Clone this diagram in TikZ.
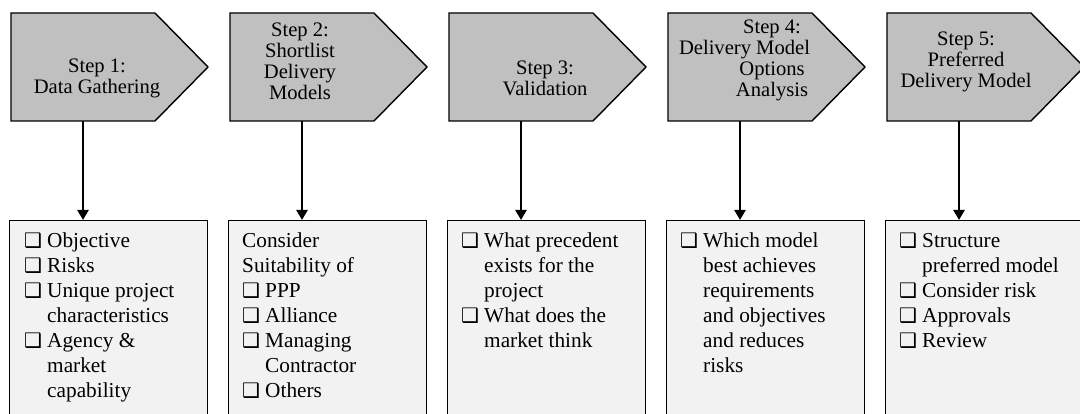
\documentclass[tikz,border=0pt]{standalone}
\usepackage{fontspec}
\setmainfont{Liberation Serif}
\newfontfamily\symfont{DejaVu Sans}
\usetikzlibrary{arrows.meta}

\definecolor{stepgray}{RGB}{192,192,192}
\definecolor{boxgray}{RGB}{242,242,242}

% shadowed check box bullet in a fixed-width column
\newcommand{\chk}{\makebox[23pt][l]{\symfont\fontsize{20}{20}\selectfont ❑}}
\newcommand{\gap}{\makebox[23pt][l]{}}
\newcommand{\wide}[1]{\multicolumn{2}{@{}l@{}}{#1}}
\newenvironment{checklist}{\begin{tabular}[t]{@{}l@{}l@{}}}{\end{tabular}}

\begin{document}
\begin{tikzpicture}[x=1pt,y=-1pt,
  stepshape/.style={draw=black, line width=1.4pt, fill=stepgray, line join=miter},
  boxshape/.style={draw=black, line width=1.4pt, fill=boxgray, anchor=north west,
    minimum width=198pt, minimum height=215pt, inner sep=0pt},
  steptext/.style={align=center, inner sep=0pt, font=\fontsize{20.6}{21}\selectfont},
  listtext/.style={anchor=base west, inner sep=0pt, font=\fontsize{21.3}{25}\selectfont},
  flow/.style={line width=2.8pt, -{Triangle[length=10pt,width=11pt]}}]

\useasboundingbox (0,0) rectangle (1080,414);
\clip (0,0) rectangle (1080,414);

% step arrows, detail boxes and the connectors between them
\foreach \i in {1,...,5}{
  \pgfmathsetmacro{\L}{11+219*(\i-1)}
  \draw[stepshape] (\L,13) -- ++(144,0) -- ++(53,54) -- ++(-53,54) -- ++(-144,0) -- cycle;
  \coordinate (s\i) at (\L+72,121);
  \node[boxshape] (b\i) at (\L-2,220) {};
  \draw[flow] (s\i) -- (s\i |- b\i.north);
}

% step titles
\node[steptext] (t1) at (97,78) {Step 1:\\Data Gathering};
\node[steptext] (t2) at (300,61) {Step 2:\\Shortlist\\Delivery\\Models};
\node[steptext] (t3) at (545,78) {Step 3:\\Validation};
\node[steptext] (t4) at (772,60) {Step 4:\\\hspace*{-55pt}Delivery Model\\Options\\Analysis};
\node[steptext] (t5) at (966,62) {Step 5:\\Preferred\\Delivery Model};

% step details
\node[listtext] (l1) at (24,248) {\begin{checklist}
  \chk & Objective\\ \chk & Risks\\ \chk & Unique project\\ \gap & characteristics\\
  \chk & Agency \&\\ \gap & market\\ \gap & capability
\end{checklist}};
\node[listtext] (l2) at (242,248) {\begin{checklist}
  \wide{Consider}\\ \wide{Suitability of}\\ \chk & PPP\\ \chk & Alliance\\
  \chk & Managing\\ \gap & Contractor\\ \chk & Others
\end{checklist}};
\node[listtext] (l3) at (461,248) {\begin{checklist}
  \chk & What precedent\\ \gap & exists for the\\ \gap & project\\
  \chk & What does the\\ \gap & market think
\end{checklist}};
\node[listtext] (l4) at (680,248) {\begin{checklist}
  \chk & Which model\\ \gap & best achieves\\ \gap & requirements\\
  \gap & and objectives\\ \gap & and reduces\\ \gap & risks
\end{checklist}};
\node[listtext] (l5) at (899,248) {\begin{checklist}
  \chk & Structure\\ \gap & preferred model\\ \chk & Consider risk\\
  \chk & Approvals\\ \chk & Review
\end{checklist}};

\end{tikzpicture}
\end{document}
